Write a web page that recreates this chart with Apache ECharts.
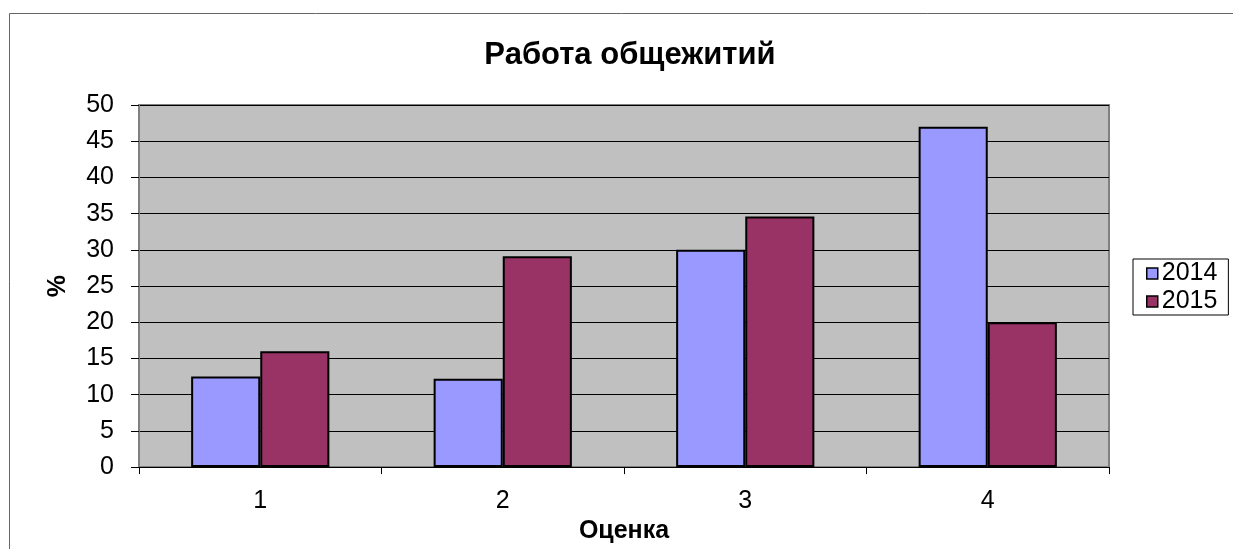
<!DOCTYPE html>
<html>
<head>
<meta charset="utf-8">
<script src="https://cdn.jsdelivr.net/npm/echarts@6/dist/echarts.min.js"></script>
<style>
html,body{margin:0;padding:0;background:#fff;}
#chart{width:1233px;height:549px;}
</style>
</head>
<body>
<div id="chart"></div>
<script>
const categories = ['1', '2', '3', '4'];
const seriesNames = ['2014', '2015'];
const values2014 = [12.5, 12.2, 30.0, 47.0];
const values2015 = [16.0, 29.1, 34.6, 20.0];
const yTicks = [0, 5, 10, 15, 20, 25, 30, 35, 40, 45, 50];

const FONT = '"Liberation Sans", Arial, sans-serif';
const chart = echarts.init(document.getElementById('chart'), null, {renderer: 'canvas'});
chart.setOption({
  animation: false,
  backgroundColor: '#fff',
  textStyle: {fontFamily: FONT, color: '#000'},
  title: {
    text: 'Работа общежитий',
    left: 625, textAlign: 'center', top: 35,
    textStyle: {fontFamily: FONT, fontSize: 31, fontWeight: 'bold', color: '#000'}
  },
  graphic: [{
    type: 'polyline',
    shape: {points: [[9.5, 549], [9.5, 13.5], [1233, 13.5]]},
    style: {stroke: '#666', lineWidth: 1, fill: null},
    silent: true
  }],
  legend: {
    orient: 'vertical',
    left: 1133, top: 259,
    data: seriesNames,
    icon: 'rect',
    itemWidth: 11, itemHeight: 11,
    itemGap: 3,
    padding: [2, 11, 1, 13],
    borderColor: '#000', borderWidth: 1,
    itemStyle: {borderColor: '#000', borderWidth: 1.5},
    textStyle: {fontFamily: FONT, fontSize: 25, lineHeight: 25, color: '#000', padding: [0, 0, 0, -1]}
  },
  grid: {
    left: 139, right: 124, top: 105, bottom: 81,
    show: true, backgroundColor: '#C0C0C0', borderColor: '#808080', borderWidth: 2
  },
  xAxis: {
    type: 'category',
    data: categories,
    name: 'Оценка',
    nameLocation: 'middle',
    nameGap: 48,
    nameTextStyle: {fontFamily: FONT, fontSize: 25, fontWeight: 'bold', color: '#000'},
    axisLine: {lineStyle: {color: '#000', width: 1}},
    axisTick: {show: true, alignWithLabel: false, length: 7, lineStyle: {color: '#000'}},
    axisLabel: {fontFamily: FONT, fontSize: 25, color: '#000', margin: 22},
    splitLine: {show: false}
  },
  yAxis: {
    type: 'value',
    min: 0, max: 50, interval: 5,
    name: '%',
    nameLocation: 'middle',
    nameRotate: 90,
    nameGap: 68,
    nameTextStyle: {fontFamily: FONT, fontSize: 25, fontWeight: 'bold', color: '#000'},
    axisLine: {show: true, lineStyle: {color: '#808080', width: 1}},
    axisTick: {show: true, length: 8, lineStyle: {color: '#000'}},
    axisLabel: {fontFamily: FONT, fontSize: 25, color: '#000', margin: 25,
      formatter: function (v) { return yTicks.indexOf(v) >= 0 ? String(v) : ''; }},
    splitLine: {show: true, lineStyle: {color: '#000', width: 1}}
  },
  series: [{
    name: seriesNames[0], type: 'bar', data: values2014,
    barGap: '0%', barCategoryGap: '43%',
    itemStyle: {color: '#9999FF', borderColor: '#000', borderWidth: 2}
  }, {
    name: seriesNames[1], type: 'bar', data: values2015,
    barGap: '0%', barCategoryGap: '43%',
    itemStyle: {color: '#993366', borderColor: '#000', borderWidth: 2}
  }]
});
</script>
</body>
</html>
